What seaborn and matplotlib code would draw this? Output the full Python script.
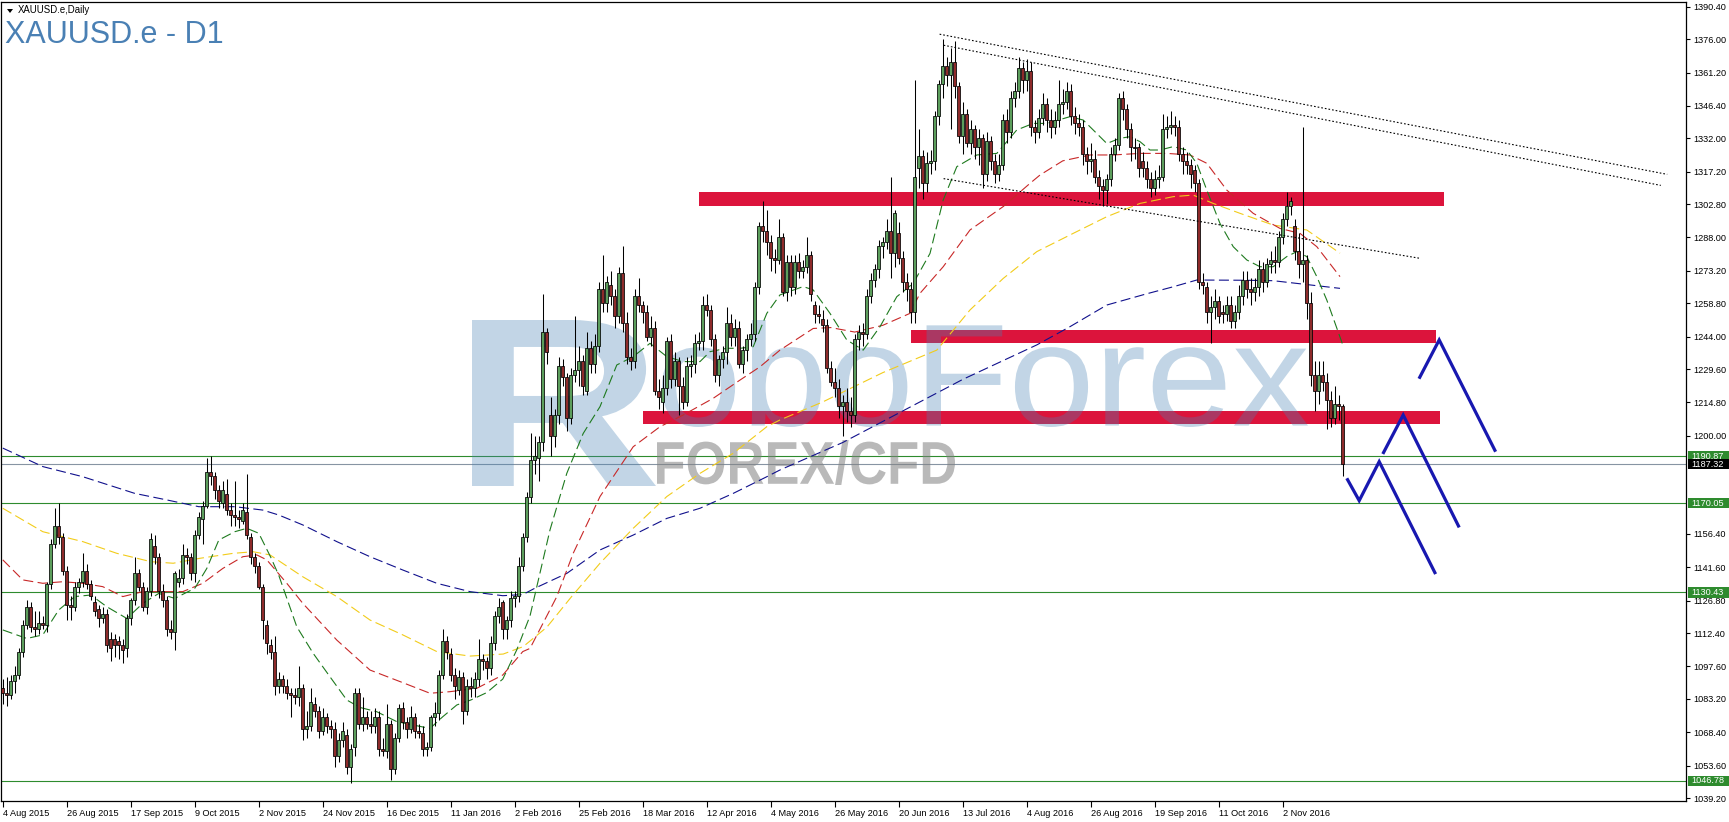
import matplotlib
matplotlib.use("Agg")
import matplotlib.pyplot as plt
import matplotlib.transforms as mtransforms
from matplotlib.font_manager import FontProperties
from matplotlib.patches import PathPatch, Rectangle, Polygon
from matplotlib.textpath import TextPath
import numpy as np
import pandas as pd
import seaborn as sns

W, H = 1729, 822

# ---- daily XAUUSD bars (one entry per bar, 16 bars per row) ----
opens = [
    1088, 1086, 1085, 1091, 1094, 1104, 1116, 1124, 1115, 1114, 1117, 1116, 1134, 1152, 1160, 1155,
    1140, 1125, 1124, 1133, 1135, 1140, 1134, 1126, 1123, 1119, 1121, 1110, 1110, 1109, 1107, 1106,
    1119, 1127, 1139, 1133, 1124, 1131, 1151, 1146, 1131, 1127, 1114, 1113, 1135, 1137, 1147, 1146,
    1139, 1156, 1163, 1169, 1184, 1182, 1176, 1170, 1174, 1167, 1165, 1164, 1162, 1166, 1155, 1146,
    1142, 1133, 1116, 1107, 1104, 1089, 1092, 1089, 1086, 1085, 1084, 1088, 1070, 1071, 1081, 1078,
    1069, 1075, 1071, 1070, 1058, 1065, 1067, 1053, 1062, 1086, 1072, 1075, 1072, 1071, 1075, 1061,
    1060, 1072, 1052, 1066, 1079, 1073, 1070, 1075, 1069, 1068, 1061, 1062, 1075, 1077, 1094, 1109,
    1103, 1094, 1087, 1093, 1078, 1089, 1088, 1092, 1101, 1100, 1097, 1108, 1120, 1126, 1114, 1118,
    1128, 1129, 1142, 1155, 1173, 1189, 1190, 1197, 1246, 1209, 1200, 1209, 1231, 1226, 1208, 1227,
    1229, 1233, 1220, 1239, 1232, 1240, 1265, 1259, 1267, 1262, 1253, 1272, 1250, 1235, 1233, 1262,
    1258, 1255, 1244, 1248, 1220, 1215, 1221, 1242, 1225, 1233, 1222, 1215, 1231, 1232, 1241, 1242,
    1258, 1256, 1243, 1227, 1234, 1237, 1250, 1244, 1248, 1232, 1238, 1243, 1245, 1266, 1293, 1291,
    1286, 1279, 1278, 1288, 1264, 1277, 1266, 1277, 1273, 1275, 1280, 1258, 1254, 1252, 1249, 1230,
    1224, 1221, 1213, 1215, 1211, 1209, 1243, 1246, 1245, 1262, 1269, 1274, 1284, 1286, 1291, 1281,
    1290, 1279, 1268, 1265, 1255, 1319, 1324, 1312, 1321, 1322, 1342, 1356, 1364, 1360, 1366, 1355,
    1333, 1343, 1330, 1336, 1328, 1332, 1316, 1331, 1322, 1316, 1320, 1340, 1335, 1350, 1353, 1363,
    1358, 1362, 1337, 1335, 1341, 1347, 1340, 1337, 1340, 1347, 1348, 1353, 1342, 1339, 1337, 1325,
    1322, 1323, 1315, 1311, 1309, 1314, 1325, 1329, 1350, 1345, 1336, 1328, 1328, 1322, 1319, 1314,
    1310, 1314, 1315, 1336, 1337, 1338, 1337, 1325, 1322, 1320, 1318, 1312, 1268, 1266, 1255, 1257,
    1260, 1255, 1254, 1258, 1251, 1255, 1262, 1269, 1265, 1264, 1266, 1274, 1268, 1276, 1278, 1277,
    1288, 1296, 1302, 1293, 1282, 1276, 1278, 1259, 1227, 1220, 1227, 1224, 1216, 1208, 1214, 1213,
]
highs = [
    1092, 1093, 1094, 1098, 1106, 1118, 1127, 1126, 1122, 1122, 1120, 1135, 1154, 1168, 1170, 1157,
    1142, 1129, 1135, 1137, 1148, 1143, 1136, 1129, 1125, 1124, 1123, 1113, 1112, 1111, 1110, 1121,
    1128, 1146, 1141, 1135, 1133, 1157, 1156, 1148, 1134, 1129, 1118, 1140, 1141, 1152, 1150, 1148,
    1158, 1166, 1171, 1190, 1191, 1184, 1178, 1180, 1181, 1170, 1180, 1167, 1170, 1183, 1157, 1148,
    1144, 1134, 1118, 1110, 1111, 1095, 1094, 1092, 1088, 1088, 1098, 1090, 1078, 1088, 1084, 1080,
    1079, 1077, 1074, 1073, 1068, 1073, 1070, 1063, 1088, 1088, 1084, 1078, 1078, 1079, 1078, 1066,
    1081, 1074, 1068, 1081, 1082, 1075, 1080, 1077, 1072, 1071, 1064, 1076, 1082, 1096, 1114, 1111,
    1106, 1097, 1096, 1095, 1092, 1093, 1095, 1110, 1103, 1102, 1111, 1122, 1128, 1127, 1120, 1131,
    1131, 1146, 1157, 1175, 1201, 1200, 1200, 1263, 1248, 1217, 1212, 1235, 1234, 1228, 1230, 1253,
    1240, 1236, 1246, 1242, 1245, 1268, 1280, 1271, 1273, 1265, 1275, 1284, 1255, 1239, 1265, 1270,
    1260, 1258, 1253, 1251, 1225, 1227, 1244, 1245, 1237, 1235, 1226, 1235, 1236, 1245, 1246, 1262,
    1263, 1258, 1245, 1236, 1240, 1257, 1254, 1252, 1251, 1240, 1245, 1250, 1268, 1295, 1304, 1300,
    1289, 1283, 1296, 1290, 1280, 1280, 1280, 1281, 1278, 1288, 1282, 1260, 1258, 1256, 1252, 1233,
    1230, 1225, 1218, 1221, 1217, 1245, 1249, 1250, 1265, 1272, 1276, 1287, 1288, 1296, 1315, 1300,
    1295, 1282, 1272, 1268, 1358, 1336, 1327, 1326, 1327, 1344, 1358, 1376, 1368, 1372, 1375, 1357,
    1348, 1345, 1340, 1338, 1336, 1334, 1335, 1333, 1325, 1325, 1343, 1345, 1353, 1357, 1368, 1366,
    1367, 1366, 1340, 1345, 1352, 1350, 1345, 1344, 1358, 1354, 1357, 1356, 1346, 1343, 1340, 1328,
    1330, 1327, 1318, 1314, 1316, 1328, 1332, 1352, 1353, 1347, 1339, 1332, 1330, 1326, 1322, 1317,
    1318, 1320, 1343, 1342, 1344, 1342, 1340, 1328, 1326, 1323, 1320, 1314, 1272, 1268, 1262, 1265,
    1262, 1258, 1262, 1262, 1258, 1267, 1273, 1273, 1270, 1270, 1278, 1277, 1279, 1282, 1284, 1291,
    1299, 1308, 1306, 1296, 1290, 1337, 1280, 1264, 1233, 1233, 1233, 1228, 1220, 1222, 1218, 1214,
]
lows = [
    1081, 1080, 1083, 1086, 1092, 1102, 1114, 1113, 1111, 1112, 1114, 1113, 1132, 1150, 1152, 1138,
    1118, 1118, 1122, 1130, 1133, 1132, 1127, 1120, 1115, 1117, 1104, 1100, 1102, 1101, 1099, 1102,
    1116, 1125, 1131, 1122, 1121, 1129, 1143, 1128, 1124, 1111, 1110, 1105, 1133, 1134, 1143, 1136,
    1135, 1154, 1152, 1168, 1178, 1172, 1168, 1168, 1165, 1160, 1160, 1159, 1161, 1154, 1143, 1139,
    1132, 1110, 1103, 1101, 1085, 1086, 1086, 1083, 1075, 1081, 1080, 1065, 1066, 1069, 1075, 1066,
    1067, 1068, 1066, 1053, 1055, 1062, 1050, 1046, 1058, 1070, 1069, 1070, 1068, 1068, 1058, 1058,
    1057, 1047, 1050, 1064, 1070, 1066, 1068, 1066, 1066, 1058, 1058, 1060, 1071, 1074, 1092, 1101,
    1091, 1083, 1085, 1072, 1076, 1084, 1084, 1089, 1096, 1092, 1094, 1105, 1117, 1110, 1110, 1115,
    1124, 1126, 1140, 1153, 1170, 1183, 1180, 1193, 1232, 1191, 1195, 1205, 1222, 1202, 1205, 1224,
    1222, 1218, 1218, 1228, 1228, 1237, 1255, 1255, 1258, 1248, 1250, 1246, 1232, 1229, 1230, 1255,
    1250, 1242, 1240, 1218, 1212, 1210, 1218, 1221, 1222, 1209, 1212, 1213, 1226, 1228, 1238, 1238,
    1253, 1240, 1224, 1222, 1230, 1232, 1240, 1240, 1230, 1228, 1233, 1240, 1242, 1263, 1286, 1280,
    1273, 1272, 1276, 1262, 1260, 1262, 1263, 1270, 1270, 1272, 1260, 1250, 1250, 1246, 1228, 1222,
    1217, 1208, 1200, 1206, 1204, 1206, 1238, 1240, 1243, 1259, 1266, 1270, 1279, 1283, 1270, 1275,
    1276, 1264, 1260, 1250, 1250, 1310, 1305, 1308, 1316, 1318, 1338, 1350, 1355, 1336, 1350, 1330,
    1325, 1328, 1325, 1323, 1320, 1310, 1313, 1318, 1312, 1313, 1318, 1330, 1332, 1346, 1350, 1352,
    1353, 1333, 1330, 1332, 1338, 1335, 1332, 1334, 1337, 1343, 1345, 1338, 1334, 1333, 1320, 1316,
    1317, 1312, 1305, 1302, 1303, 1311, 1322, 1327, 1340, 1332, 1322, 1323, 1315, 1315, 1310, 1306,
    1307, 1310, 1313, 1332, 1334, 1333, 1322, 1316, 1316, 1310, 1308, 1265, 1263, 1250, 1241, 1252,
    1250, 1250, 1251, 1248, 1248, 1252, 1258, 1261, 1258, 1260, 1262, 1264, 1266, 1272, 1272, 1275,
    1285, 1293, 1298, 1278, 1270, 1268, 1252, 1222, 1211, 1214, 1220, 1203, 1204, 1205, 1207, 1182,
]
closes = [
    1086, 1085, 1091, 1094, 1104, 1116, 1124, 1115, 1114, 1117, 1116, 1134, 1152, 1160, 1155, 1140,
    1125, 1124, 1133, 1135, 1140, 1134, 1129, 1122, 1119, 1121, 1107, 1106, 1107, 1107, 1105, 1119,
    1127, 1139, 1133, 1124, 1131, 1154, 1146, 1131, 1127, 1114, 1113, 1139, 1137, 1147, 1146, 1139,
    1156, 1164, 1169, 1184, 1182, 1176, 1171, 1176, 1167, 1165, 1164, 1163, 1167, 1156, 1146, 1142,
    1133, 1118, 1108, 1104, 1089, 1092, 1089, 1086, 1085, 1084, 1088, 1070, 1071, 1082, 1078, 1069,
    1075, 1071, 1070, 1058, 1065, 1069, 1053, 1061, 1086, 1072, 1075, 1072, 1071, 1075, 1061, 1060,
    1072, 1052, 1066, 1079, 1073, 1070, 1075, 1069, 1068, 1061, 1062, 1075, 1077, 1094, 1109, 1104,
    1094, 1089, 1093, 1078, 1089, 1088, 1092, 1101, 1100, 1097, 1108, 1120, 1124, 1114, 1118, 1128,
    1129, 1142, 1155, 1173, 1189, 1191, 1197, 1246, 1237, 1200, 1209, 1231, 1226, 1208, 1227, 1229,
    1233, 1222, 1239, 1232, 1240, 1265, 1259, 1268, 1262, 1253, 1272, 1250, 1235, 1233, 1262, 1258,
    1255, 1244, 1248, 1220, 1217, 1221, 1242, 1225, 1233, 1222, 1215, 1231, 1232, 1241, 1242, 1258,
    1256, 1243, 1227, 1234, 1237, 1250, 1244, 1248, 1232, 1238, 1243, 1245, 1266, 1293, 1291, 1286,
    1279, 1278, 1288, 1264, 1277, 1266, 1277, 1273, 1275, 1280, 1263, 1254, 1253, 1249, 1230, 1224,
    1221, 1213, 1215, 1211, 1209, 1243, 1246, 1245, 1262, 1269, 1274, 1284, 1286, 1291, 1281, 1299,
    1279, 1268, 1265, 1255, 1315, 1324, 1312, 1321, 1322, 1342, 1356, 1364, 1360, 1366, 1355, 1333,
    1343, 1330, 1336, 1328, 1332, 1316, 1331, 1322, 1316, 1320, 1340, 1335, 1350, 1353, 1363, 1358,
    1362, 1337, 1335, 1341, 1347, 1340, 1337, 1340, 1347, 1348, 1353, 1342, 1339, 1337, 1325, 1322,
    1323, 1315, 1311, 1309, 1314, 1325, 1329, 1350, 1345, 1336, 1328, 1327.5, 1319, 1319, 1314, 1310,
    1314, 1315, 1336, 1337, 1338, 1337, 1325, 1322, 1320, 1316, 1312, 1268, 1267, 1255, 1257, 1260,
    1253, 1254, 1258, 1251, 1255, 1262, 1269, 1265, 1264, 1266, 1274, 1268, 1276, 1278, 1277, 1288,
    1296, 1302, 1304, 1282, 1276, 1278, 1259, 1227, 1220, 1227, 1224, 1216, 1208, 1214, 1213, 1187.32,
]

date_labels = ['4 Aug 2015', '26 Aug 2015', '17 Sep 2015', '9 Oct 2015', '2 Nov 2015',
               '24 Nov 2015', '16 Dec 2015', '11 Jan 2016', '2 Feb 2016', '25 Feb 2016',
               '18 Mar 2016', '12 Apr 2016', '4 May 2016', '26 May 2016', '20 Jun 2016',
               '13 Jul 2016', '4 Aug 2016', '26 Aug 2016', '19 Sep 2016', '11 Oct 2016',
               '2 Nov 2016']
BARS_PER_LABEL = 16

price_ticks = [1390.40, 1376.00, 1361.20, 1346.40, 1332.00, 1317.20, 1302.80, 1288.00,
               1273.20, 1258.80, 1244.00, 1229.60, 1214.80, 1200.00,
               1156.40, 1141.60, 1126.80, 1112.40, 1097.60, 1083.20, 1068.40, 1053.60, 1039.20]

# moving averages at (bar, price) points
ma_fast_bars = [0, 6, 10, 14, 18, 22, 26, 31, 35, 39, 43, 48, 51, 54, 58, 61, 64, 67, 69, 73.5,
                77.6, 81.8, 86, 89.3, 93.5, 98.5, 102.6, 106.8, 110, 113.5, 117, 121, 125, 128.5,
                131.8, 136.8, 141, 145.1, 149.3, 153.5, 157.6, 161.8, 166, 170.1, 174.3, 176.8,
                181, 184.3, 187.6, 191, 194.3, 200.1, 202.6, 206.8, 211, 215.1, 219.3, 223.5,
                227.6, 231.8, 235.1, 238.5, 243.5, 248.5, 253.5, 257.6, 261, 266.8, 270.1, 272.6,
                276, 279.3, 281.8, 284.3, 286.8, 289.3, 292.6, 296, 298.5, 301, 304.3, 307.6, 311,
                314.3, 317.6, 321, 323.5, 326, 328.5, 331, 335]
ma_fast_vals = [1113.8, 1110, 1111.6, 1122.7, 1128.6, 1129.3, 1124.1, 1118.9, 1125.6, 1130, 1127.8,
                1132.3, 1141.1, 1153.7, 1157.4, 1158.9, 1156.7, 1146, 1138, 1115.2, 1103.4, 1093,
                1082.7, 1079.4, 1077.5, 1073.1, 1071.6, 1070.1, 1075.3, 1080.5, 1082.7, 1086, 1092,
                1105, 1120, 1158.2, 1183.3, 1201, 1212.9, 1231.4, 1235.1, 1241, 1235.1, 1232.9,
                1232.9, 1237.3, 1238.8, 1238.8, 1239.5, 1254.3, 1262.5, 1266.2, 1264.7, 1254.3,
                1242.5, 1238, 1248.4, 1261.7, 1267.6, 1280.9, 1304.6, 1319.4, 1324.6, 1325.3,
                1335.7, 1338.6, 1338.6, 1341.6, 1340.1, 1335.7, 1329.7, 1332, 1332.7, 1330.5,
                1326.8, 1326.8, 1328.3, 1326.8, 1320.9, 1309, 1294.2, 1283.9, 1278, 1275, 1275,
                1279.5, 1281.7, 1279.5, 1270.6, 1260.2, 1240.3]

ma_mid_bars = [0, 5, 10, 15, 20, 25, 30, 35, 40, 45, 50, 55, 60, 63.5, 66, 71, 75, 83.5, 91.8, 100,
               106.8, 111.8, 118.5, 125, 130, 131.8, 138.5, 142.6, 149.3, 157.6, 164.3, 170.1,
               177.6, 184.3, 189.3, 194.3, 202.6, 207, 213, 220, 226.8, 229.3, 235.1, 241.8, 250.1,
               256.8, 259.3, 265, 271.8, 277.6, 284.3, 291, 296.8, 301, 306, 312.6, 319.3, 324.3,
               328.5, 334.3]
ma_mid_vals = [1144.9, 1136, 1134.5, 1135.2, 1134.5, 1133, 1128.6, 1130.8, 1130.8, 1130.8, 1134.5,
               1141.1, 1146.3, 1147.1, 1144.9, 1134.5, 1125.6, 1109.3, 1096, 1090.4, 1085.7, 1086.4,
               1087.9, 1093.8, 1104.2, 1105.6, 1128.6, 1147.8, 1173, 1195.1, 1204, 1209.2, 1216.6,
               1224.7, 1230.6, 1238, 1247.6, 1248, 1246, 1249, 1254.3, 1263.2, 1275, 1291.3, 1301.7,
               1312, 1315.7, 1322, 1324.6, 1324.6, 1325.3, 1325.3, 1324.6, 1320.9, 1309, 1298.7,
               1292, 1289.8, 1283.9, 1270.6]

ma_slow_bars = [0, 10, 20, 28.5, 37, 42.6, 49.3, 57.6, 62.6, 66.8, 75, 83.5, 91.8, 100, 108.5,
                116.8, 125.1, 130.1, 136, 142.2, 149.3, 157.6, 166, 174.3, 182.6, 191, 194.3, 205,
                220, 233.5, 241.8, 250.1, 258.5, 267.6, 276, 284.3, 292.6, 297.6, 302.6, 309.3,
                317.6, 326, 334.3]
ma_slow_vals = [1167.8, 1157.4, 1153, 1147.8, 1144.1, 1143.4, 1145.6, 1147.8, 1148.5, 1147.1,
                1137.4, 1128.6, 1118.2, 1111.6, 1104.2, 1102.2, 1103.1, 1106.4, 1115, 1128.6,
                1143.4, 1158.9, 1173, 1183.3, 1192.2, 1204, 1207, 1215, 1228, 1238, 1255.8, 1269.8,
                1281.7, 1289.8, 1297.2, 1303.1, 1306.1, 1306.8, 1303.1, 1298.7, 1293.5, 1291.3, 1281]

ma_long_bars = [0, 10, 20, 33, 41, 49, 58, 65, 69, 75, 83.5, 91.8, 100, 108.5, 116.8, 125, 130,
                133, 141, 149.3, 157.6, 166, 174.3, 182.6, 191, 194.3, 210, 225, 240, 258.5, 266.8,
                276, 286, 292.6, 298.5, 310, 317.6, 334.3]
ma_long_vals = [1194.5, 1186.3, 1181.8, 1174.4, 1171.5, 1168.5, 1168.5, 1167, 1164.8, 1160.4, 1153,
                1146.3, 1140.4, 1134.5, 1130.8, 1129, 1129.5, 1132.3, 1138.9, 1149.3, 1155.9,
                1163.3, 1167.8, 1174.4, 1181.8, 1184.8, 1197, 1211, 1225, 1240.3, 1248.4, 1258,
                1263, 1266.1, 1269.1, 1269, 1268.8, 1265.4]

support_levels = [1190.87, 1170.05, 1130.43, 1046.78]
bid_price = 1187.32

zone_prices = [1305.1, 1243.9, 1208.0]
zone_start = [174.0, 227.0, 160.0]
zone_end = [360.4, 358.2, 359.3]

trend_upper_a = ([234.2, 416.1], [1378.2, 1316.0])
trend_upper_b = ([235.2, 414.5], [1373.3, 1311.1])
trend_lower = ([235.2, 354.4], [1314.1, 1278.7])

path_a = ([336.0, 339.1, 344.1, 358.2], [1181.1, 1171.2, 1188.5, 1138.6])
path_b = ([345.0, 350.1, 364.1], [1191.9, 1209.2, 1159.3])
path_c = ([354.05, 359.1, 373.2], [1225.3, 1242.5, 1192.9])

# ---- style ----
BULL = '#5C9E5C'
BEAR = '#8E2B2B'
LEVEL_GREEN = '#2E8B2E'
ZONE_RED = '#DC143C'
ARROW_BLUE = '#1818B0'

sns.set_theme(style="white")
plt.rcParams['font.family'] = ['Liberation Sans', 'DejaVu Sans']

fig = plt.figure(figsize=(W / 100, H / 100), dpi=100)
ax = fig.add_axes([1 / W, (H - 801) / H, 1685 / W, 799 / H])
ax.set_facecolor('white')

px = mtransforms.Affine2D().scale(1 / W, -1 / H).translate(0, 1) + fig.transFigure

# zones
for p, x0, x1 in zip(zone_prices, zone_start, zone_end):
    ax.add_patch(Rectangle((x0, p - 2.97), x1 - x0, 5.94, facecolor=ZONE_RED,
                           edgecolor='none', zorder=1.5))


# watermark
def boxed_text(s, box, color, alpha, weight='normal'):
    fp = FontProperties(family='Liberation Sans', weight=weight)
    tp = TextPath((0, 0), s, size=100, prop=fp)
    bb = tp.get_extents()
    x0, y0, x1, y1 = box
    tr = (mtransforms.Affine2D().translate(-bb.x0, -bb.y0)
          .scale((x1 - x0) / bb.width, -(y1 - y0) / bb.height)
          .translate(x0, y1) + px)
    ax.add_patch(PathPatch(tp, transform=tr, facecolor=color, edgecolor='none',
                           alpha=alpha, zorder=2.2))


boxed_text('R', (472, 320, 656, 486), '#4682B4', 0.33, weight='bold')
boxed_text('oboForex', (662, 320, 1308, 427), '#4682B4', 0.33)
boxed_text('FOREX/CFD', (657, 440, 955, 485), '#808080', 0.55, weight='bold')

# horizontal levels
for lv in support_levels:
    ax.axhline(lv, color=LEVEL_GREEN, lw=0.8, zorder=2)
ax.axhline(bid_price, color='#8794A3', lw=0.8, zorder=2)

# moving averages
for xs, ys, col in [(ma_long_bars, ma_long_vals, '#10108C'),
                    (ma_slow_bars, ma_slow_vals, '#F2CC1A'),
                    (ma_mid_bars, ma_mid_vals, '#C82828'),
                    (ma_fast_bars, ma_fast_vals, '#1E7A1E')]:
    sns.lineplot(x=xs, y=ys, ax=ax, color=col, lw=0.8, linestyle=(0, (9, 4)),
                 sort=False, estimator=None, zorder=2.5)

# candles
df = pd.DataFrame({'open': opens, 'high': highs, 'low': lows, 'close': closes})
df['bar'] = np.arange(len(df))
rising = df['close'] >= df['open']
body_bottom = df[['open', 'close']].min(axis=1)
body_height = (df['close'] - df['open']).abs().clip(lower=0.45)
ax.vlines(df['bar'], df['low'], df['high'], color='black', lw=0.75, zorder=3)
ax.bar(df['bar'], body_height, bottom=body_bottom, width=0.72,
       color=np.where(rising, BULL, BEAR), edgecolor='black', linewidth=0.55, zorder=3.5)

# trend lines
for xs, ys in [trend_upper_a, trend_upper_b, trend_lower]:
    ax.plot(xs, ys, color='black', lw=0.8, linestyle=(0, (1.5, 1.8)), zorder=4)

# projected path
for xs, ys in [path_a, path_b, path_c]:
    ax.plot(xs, ys, color=ARROW_BLUE, lw=2.3, solid_joinstyle='miter',
            solid_capstyle='butt', zorder=5)

# axes
ax.set_xlim(-0.45, 420.8)
ax.set_ylim(1037.88, 1392.49)
ax.set_xticks(np.arange(0, len(date_labels) * BARS_PER_LABEL, BARS_PER_LABEL))
ax.set_xticklabels(date_labels, ha='left')
ax.yaxis.tick_right()
ax.set_yticks(price_ticks)
ax.set_yticklabels([f'{v:.2f}' for v in price_ticks])
ax.tick_params(axis='x', bottom=True, direction='out', length=4, width=0.8, pad=2,
               labelsize=6.6, colors='black')
ax.tick_params(axis='y', right=True, left=False, direction='out', length=3, width=0.8,
               pad=2, labelsize=6.6, colors='black')
for sp in ax.spines.values():
    sp.set_color('black')
    sp.set_linewidth(0.9)
ax.grid(False)

# price tags on the right scale
tag_tr = mtransforms.blended_transform_factory(fig.transFigure, ax.transData)
for lv, bg in [(lv, LEVEL_GREEN) for lv in support_levels] + [(bid_price, 'black')]:
    ax.add_patch(Rectangle((1688 / W, lv - 2.25), 41 / W, 4.5, transform=tag_tr,
                           facecolor=bg, edgecolor='none', clip_on=False, zorder=10))
    ax.text(1691 / W, lv, f'{lv:.2f}', transform=tag_tr, color='white', fontsize=6.6,
            va='center', ha='left', zorder=11, clip_on=False)

# header
fig.add_artist(Polygon([(7, 9), (13, 9), (10, 13)], closed=True, transform=px,
                       facecolor='black', edgecolor='none'))
fig.text(18, 10, 'XAUUSD.e,Daily', transform=px, fontsize=6.9, va='center', ha='left',
         color='black')
fig.text(5, 43, 'XAUUSD.e - D1', transform=px, fontsize=22, va='baseline', ha='left',
         color='#4A80B4')

fig.savefig('out.png', dpi=100)
